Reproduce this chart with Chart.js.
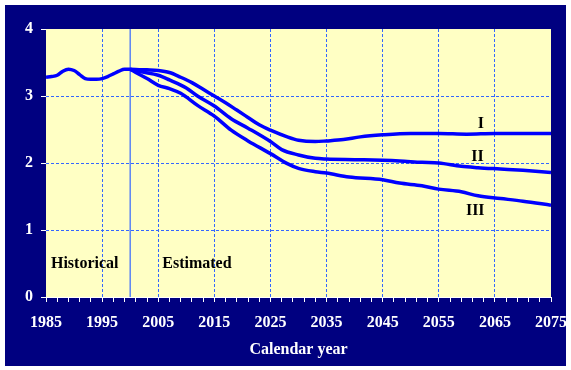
<!DOCTYPE html>
<html>
<head>
<meta charset="utf-8">
<script src="https://cdn.jsdelivr.net/npm/chart.js@4"></script>
<style>
  html, body { margin: 0; padding: 0; background: #ffffff; }
  #wrap { width: 571px; height: 370px; }
</style>
</head>
<body>
<div id="wrap"><canvas id="chart" width="571" height="370"></canvas></div>
<script>
// Historical period
const histYears = [1985, 1986, 1987, 1988, 1989, 1990, 1991, 1992, 1993, 1994, 1995, 1996, 1997, 1998, 1999, 2000];
const histValues = [3.28, 3.29, 3.31, 3.37, 3.40, 3.38, 3.32, 3.26, 3.25, 3.25, 3.26, 3.29, 3.33, 3.37, 3.40, 3.40];

// Alternative I (top)
const altIYears = [2000, 2003, 2005, 2007, 2009, 2011, 2013, 2015, 2017, 2019, 2021, 2023, 2025, 2028, 2030, 2033, 2035, 2038, 2041, 2045, 2050, 2055, 2060, 2065, 2070, 2075];
const altIValues = [3.40, 3.39, 3.38, 3.35, 3.28, 3.20, 3.10, 3.00, 2.90, 2.79, 2.68, 2.57, 2.49, 2.39, 2.34, 2.32, 2.33, 2.35, 2.39, 2.42, 2.44, 2.44, 2.43, 2.44, 2.44, 2.44];

// Alternative II (middle)
const altIIYears = [2000, 2002, 2005, 2007, 2010, 2012, 2015, 2018, 2021, 2025, 2027, 2030, 2033, 2035, 2040, 2045, 2048, 2052, 2055, 2059, 2062, 2066, 2070, 2075];
const altIIValues = [3.40, 3.36, 3.31, 3.24, 3.12, 3.00, 2.85, 2.66, 2.52, 2.32, 2.20, 2.12, 2.07, 2.06, 2.05, 2.04, 2.03, 2.01, 2.00, 1.95, 1.93, 1.91, 1.89, 1.86];

// Alternative III (bottom)
const altIIIYears = [2000, 2001, 2003, 2005, 2007, 2009, 2012, 2015, 2018, 2021, 2025, 2028, 2030, 2033, 2035, 2039, 2045, 2048, 2052, 2055, 2059, 2062, 2066, 2070, 2075];
const altIIIValues = [3.40, 3.35, 3.26, 3.16, 3.11, 3.04, 2.86, 2.70, 2.49, 2.33, 2.14, 1.99, 1.92, 1.87, 1.85, 1.79, 1.75, 1.70, 1.66, 1.61, 1.57, 1.51, 1.47, 1.43, 1.37];

// Boundary between historical and estimated
const boundaryYear = 2000;

// Axis ranges / ticks
const xMin = 1985, xMax = 2075, xMinorStep = 2, xLabelStep = 10;
const yMin = 0, yMax = 4, yStep = 1;

// Text annotations [text, year, value]
const seriesLabels = [['I', 2062.5, 2.59], ['II', 2061.9, 2.085], ['III', 2061.5, 1.29]];
const periodLabels = [['Historical', 1991.9, 0.49], ['Estimated', 2011.9, 0.49]];

const NAVY = '#000080';
const PLOT_BG = '#ffffc4';
const GRID_BLUE = '#3366ff';
const LINE_BLUE = '#0000ff';

function toPoints(xs, ys) {
    return xs.map((x, i) => ({ x: x, y: ys[i] }));
}

Chart.defaults.font.family = "'Liberation Serif', 'Times New Roman', serif";
Chart.defaults.font.weight = 'bold';
Chart.defaults.font.size = 16;
Chart.defaults.color = '#ffffff';

// --- background: white frame, navy panel, yellow plot area ---
const backgroundPlugin = {
    id: 'backgroundPlugin',
    beforeDraw(chart) {
        const ctx = chart.ctx;
        const a = chart.chartArea;
        ctx.save();
        ctx.fillStyle = '#ffffff';
        ctx.fillRect(0, 0, chart.width, chart.height);
        ctx.fillStyle = NAVY;
        ctx.fillRect(5, 5, chart.width - 10, chart.height - 9);
        ctx.fillStyle = PLOT_BG;
        ctx.fillRect(a.left, a.top, a.right - a.left, a.bottom - a.top);
        ctx.restore();
    }
};

// --- text labels placed in data coordinates ---
const labelPlugin = {
    id: 'labelPlugin',
    afterDatasetsDraw(chart) {
        const ctx = chart.ctx;
        const xs = chart.scales.x, ys = chart.scales.y;
        ctx.save();
        ctx.fillStyle = '#000000';
        ctx.textAlign = 'center';
        ctx.textBaseline = 'middle';
        ctx.font = "bold 16px 'Liberation Serif', serif";
        seriesLabels.concat(periodLabels).forEach(([t, x, y]) => {
            ctx.fillText(t, xs.getPixelForValue(x), ys.getPixelForValue(y));
        });
        ctx.restore();
    }
};

const lineStyle = {
    borderColor: LINE_BLUE,
    borderWidth: 3.5,
    pointRadius: 0,
    fill: false,
    cubicInterpolationMode: 'monotone'
};

new Chart(document.getElementById('chart').getContext('2d'), {
    type: 'line',
    data: {
        datasets: [
            { label: 'Historical', data: toPoints(histYears, histValues), ...lineStyle },
            { label: 'I', data: toPoints(altIYears, altIValues), ...lineStyle },
            { label: 'II', data: toPoints(altIIYears, altIIValues), ...lineStyle },
            { label: 'III', data: toPoints(altIIIYears, altIIIValues), ...lineStyle },
            {
                label: 'boundary',
                data: [{ x: boundaryYear, y: yMin }, { x: boundaryYear, y: yMax }],
                borderColor: GRID_BLUE,
                borderWidth: 1.2,
                pointRadius: 0,
                fill: false
            }
        ]
    },
    options: {
        responsive: false,
        animation: false,
        layout: { padding: { left: 0, top: 29, right: 20, bottom: 0 } },
        plugins: {
            legend: { display: false },
            tooltip: { enabled: false }
        },
        scales: {
            x: {
                type: 'linear',
                min: xMin,
                max: xMax,
                border: { display: true, color: '#ffffff', width: 1, dash: [3, 2] },
                grid: {
                    color: c => {
                        const v = c.tick ? c.tick.value : null;
                        if (v === null || v === xMin || v === xMax) return 'rgba(0,0,0,0)';
                        return (v - xMin) % xLabelStep === 0 ? GRID_BLUE : 'rgba(0,0,0,0)';
                    },
                    tickColor: '#ffffff',
                    tickWidth: 1,
                    tickLength: 5,
                    lineWidth: 1
                },
                ticks: {
                    stepSize: xMinorStep,
                    autoSkip: false,
                    maxRotation: 0,
                    minRotation: 0,
                    padding: 11,
                    color: '#ffffff',
                    callback: v => ((v - xMin) % xLabelStep === 0 ? String(v) : '')
                },
                title: {
                    display: true,
                    text: 'Calendar year',
                    color: '#ffffff',
                    padding: { top: 0, bottom: 11 }
                },
                afterFit: s => {
                    s.height = 73;
                    s.paddingLeft = 0;
                    s.paddingRight = 0;
                }
            },
            y: {
                min: yMin,
                max: yMax,
                border: { display: false, dash: [3, 2] },
                grid: {
                    color: c => {
                        const v = c.tick ? c.tick.value : null;
                        return (v === yMin || v === yMax) ? 'rgba(0,0,0,0)' : GRID_BLUE;
                    },
                    tickColor: '#ffffff',
                    tickWidth: 1,
                    tickLength: 5,
                    lineWidth: 1
                },
                ticks: {
                    stepSize: yStep,
                    padding: 8,
                    color: '#ffffff'
                },
                afterFit: s => { s.width = 46; }
            }
        }
    },
    plugins: [backgroundPlugin, labelPlugin]
});
</script>
</body>
</html>
